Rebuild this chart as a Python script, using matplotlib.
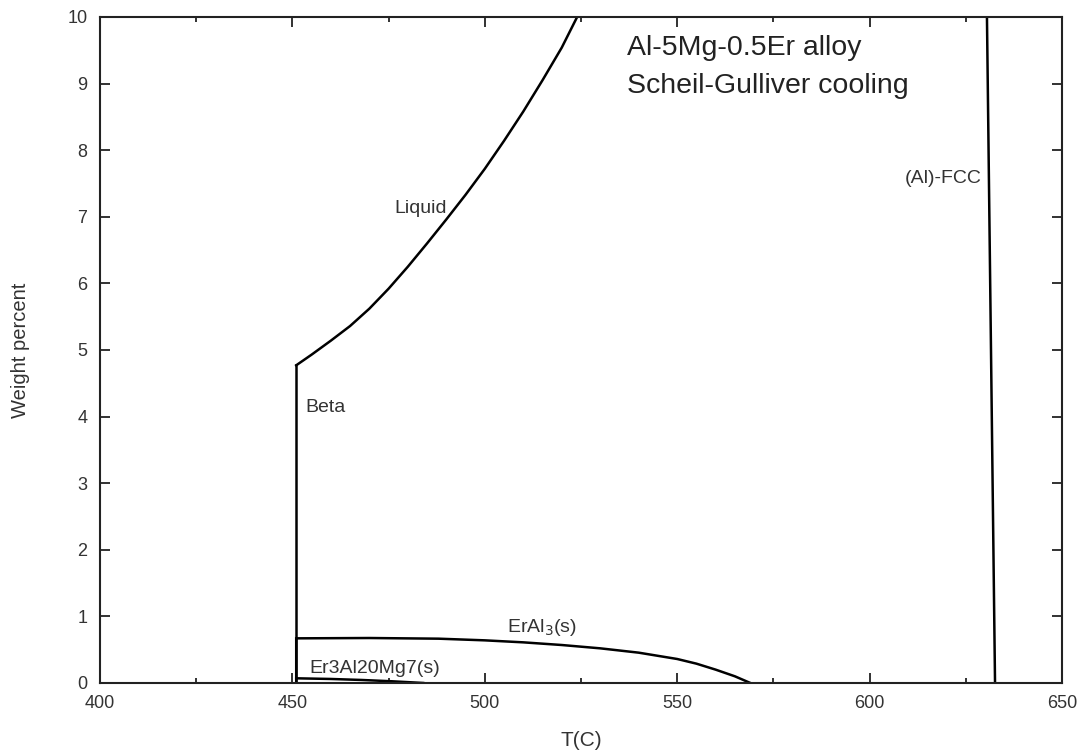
import numpy as np
import matplotlib.pyplot as plt
from matplotlib.ticker import MultipleLocator

plt.rcParams['font.family'] = ['Liberation Sans', 'DejaVu Sans']

# phase curves (T in C, weight percent)
liquid_t = [451.0, 455.0, 460.0, 465.0, 470.0, 475.0, 480.0, 485.0, 490.0, 495.0,
            500.0, 505.0, 510.0, 515.0, 520.0, 524.0]
liquid_w = [4.77, 4.93, 5.14, 5.36, 5.62, 5.92, 6.25, 6.60, 6.96, 7.33,
            7.72, 8.14, 8.58, 9.05, 9.54, 10.0]

beta_t = [451.0, 451.0]
beta_w = [0.0, 4.77]

eral3_t = [451.0, 451.0, 470.0, 488.0, 500.0, 510.0, 520.0, 530.0, 540.0, 550.0,
           555.0, 560.0, 565.0, 569.0]
eral3_w = [0.0, 0.67, 0.675, 0.665, 0.64, 0.61, 0.57, 0.52, 0.455, 0.36,
           0.29, 0.2, 0.1, 0.0]

er3_t = [451.0, 460.0, 468.0, 476.0, 484.0]
er3_w = [0.07, 0.06, 0.045, 0.025, 0.0]

fcc_t = [630.5, 632.6]
fcc_w = [10.0, 0.0]

fig = plt.figure(figsize=(10.83, 7.52), dpi=100)
ax = fig.add_axes([0.0923, 0.0918, 0.8883, 0.8856])

for t, w in [(liquid_t, liquid_w), (beta_t, beta_w), (eral3_t, eral3_w),
             (er3_t, er3_w), (fcc_t, fcc_w)]:
    ax.plot(t, w, color='black', lw=1.8, solid_joinstyle='miter')

ax.set_xlim(400, 650)
ax.set_ylim(0, 10)
ax.xaxis.set_major_locator(MultipleLocator(50))
ax.xaxis.set_minor_locator(MultipleLocator(25))
ax.yaxis.set_major_locator(MultipleLocator(1))
ax.tick_params(which='both', direction='in', top=True, right=True, colors='#222222',
               labelcolor='#333333', labelsize=13, width=1.3)
ax.tick_params(which='major', length=7)
ax.tick_params(which='minor', length=3.5)
ax.tick_params(axis='x', pad=9)
ax.tick_params(axis='y', pad=9)
for s in ax.spines.values():
    s.set_linewidth(1.5)
    s.set_color('#222222')

ax.set_xlabel('T(C)', fontsize=15, color='#333333', labelpad=13)
ax.set_ylabel('Weight percent', fontsize=14.5, color='#333333', labelpad=27)

lab = dict(fontsize=14, color='#333333', ha='center', va='center')
ax.text(483.4, 7.13, 'Liquid', **lab)
ax.text(458.5, 4.14, 'Beta', **lab)
ax.text(514.9, 0.83, 'ErAl$_3$(s)', **lab)
ax.text(471.5, 0.21, 'Er3Al20Mg7(s)', **lab)
ax.text(619.1, 7.58, '(Al)-FCC', **lab)
ax.text(537.0, 9.25, 'Al-5Mg-0.5Er alloy\nScheil-Gulliver cooling', fontsize=20.5,
        color='#222222', ha='left', va='center', linespacing=1.6)

fig.savefig('out.png', dpi=100)
